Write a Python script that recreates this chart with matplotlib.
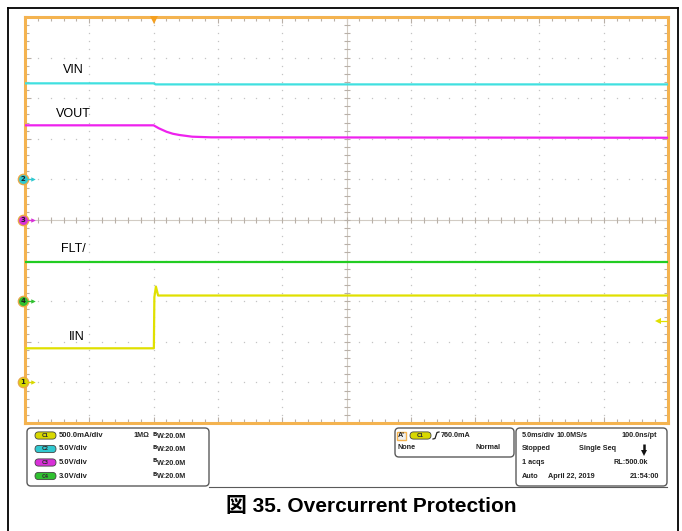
import numpy as np
import matplotlib
matplotlib.use("Agg")
import matplotlib.pyplot as plt
from matplotlib.patches import FancyBboxPatch, Rectangle
from matplotlib import transforms

# ---------------- data ----------------
# time in ms relative to trigger, 5 ms/div, trigger 2 div from left
time_vin = [-10, 0.0, 0.15, 40]
vin_V = [11.83, 11.83, 11.7, 11.7]

time_vout = [-10, 0.0, 0.4, 1.0, 1.5, 2.0, 3.0, 4.5, 40]
vout_V = [11.66, 11.66, 11.3, 10.87, 10.62, 10.47, 10.26, 10.18, 10.13]

time_flt = [-10, 40]
flt_V = [2.9, 2.9]

time_iin = [-10, 0.02, 0.06, 0.18, 0.35, 40]
iin_A = [0.42, 0.42, 1.05, 1.18, 1.07, 1.07]

# channel settings: (scale per div, marker offset in div)
ch_scale = {"C1": 0.5, "C2": 5.0, "C3": 5.0, "C4": 3.0}
ch_offset = {"C1": -4.0, "C2": 1.0, "C3": 0.0, "C4": -2.0}
ch_color = {"C1": "#e0e000", "C2": "#40e0e0", "C3": "#ee22ee", "C4": "#22cc22"}
ch_pill = {"C1": "#d8d800", "C2": "#30c8d0", "C3": "#d830d8", "C4": "#30c030"}
trig_level_A = 0.76

labels = ["VIN", "VOUT", "FLT/", "IIN"]
label_t = [-7.05, -7.61, -7.22, -6.56]
scale_text = ["500.0mA/div", "5.0V/div", "5.0V/div", "3.0V/div"]
title = "図 35. Overcurrent Protection"

W, H = 682, 531
fig = plt.figure(figsize=(W / 100, H / 100), dpi=100)
bg = fig.add_axes([0, 0, 1, 1])
bg.set_xlim(0, W)
bg.set_ylim(H, 0)
bg.axis("off")

# outer black frame
bg.plot([7.5, 7.5], [8, 531], color="black", lw=1.3)
bg.plot([7.5, 678], [8, 8], color="black", lw=1.3)
bg.plot([678, 678], [8, 531], color="black", lw=1.3)

# ---------------- scope axes ----------------
L, T, R, B = 25, 17, 668, 423
ax = fig.add_axes([L / W, 1 - B / H, (R - L) / W, (B - T) / H])
ax.set_xlim(-10, 40)
ax.set_ylim(-5, 5)
orange = "#f4b350"
for s in ax.spines.values():
    s.set_color(orange)
    s.set_linewidth(2.2)
ax.set_xticks(np.arange(-10, 41, 5))
ax.set_xticks(np.arange(-10, 40.1, 1), minor=True)
ax.set_yticks(np.arange(-5, 5.1, 1))
ax.set_yticks(np.arange(-5, 5.01, 0.2), minor=True)
tick_col = "#b8b0a8"
ax.tick_params(which="major", direction="in", length=4.5, width=0.8, color=tick_col,
               top=True, right=True, labelbottom=False, labelleft=False)
ax.tick_params(which="minor", direction="in", length=2.8, width=0.8, color=tick_col,
               top=True, right=True)

# dotted graticule
dot_col = "#c4c4c4"
ydots = np.arange(-5, 5.01, 0.2)
xdots = np.arange(-10, 40.01, 1.0)
for xv in np.arange(-5, 40, 5):
    if xv == 15:
        continue
    ax.plot(np.full_like(ydots, xv), ydots, ls="none", marker="s", ms=0.9, color=dot_col, mew=0)
for yv in np.arange(-4, 5, 1):
    if yv == 0:
        continue
    ax.plot(xdots, np.full_like(xdots, yv), ls="none", marker="s", ms=0.9, color=dot_col, mew=0)
# centre cross with ticks
ax.axhline(0, color="#d2ccc4", lw=0.8)
ax.axvline(15, color="#d2ccc4", lw=0.8)
ax.plot(xdots, np.zeros_like(xdots), ls="none", marker="|", ms=4, mew=0.8, color=tick_col)
ax.plot(np.full_like(ydots, 15), ydots, ls="none", marker="_", ms=4, mew=0.8, color=tick_col)

def to_div(vals, ch):
    return [ch_offset[ch] + v / ch_scale[ch] for v in vals]

ax.plot(time_vin, to_div(vin_V, "C2"), color=ch_color["C2"], lw=1.6, zorder=5)
ax.plot(time_vout, to_div(vout_V, "C3"), color=ch_color["C3"], lw=1.6, zorder=5)
ax.plot(time_flt, to_div(flt_V, "C4"), color=ch_color["C4"], lw=1.6, zorder=5)
ax.plot(time_iin, to_div(iin_A, "C1"), color=ch_color["C1"], lw=1.6, zorder=5)

# trace labels
lab_y = [to_div([vin_V[0]], "C2")[0] + 0.32, to_div([vout_V[0]], "C3")[0] + 0.28,
         to_div([flt_V[0]], "C4")[0] + 0.31, to_div([iin_A[0]], "C1")[0] + 0.27]
for txt, tx, ty in zip(labels, label_t, lab_y):
    ax.text(tx, ty, txt, fontsize=9, family="Liberation Sans", va="center", ha="left")

# channel markers on the left
bt = transforms.blended_transform_factory(ax.transAxes, ax.transData)
for ch, num in [("C1", "1"), ("C2", "2"), ("C3", "3"), ("C4", "4")]:
    y = ch_offset[ch]
    ax.plot([-0.0036], [y], marker="o", ms=7.4, mfc=ch_pill[ch], mec="#e8a848", mew=1.0,
            transform=bt, clip_on=False, zorder=10)
    ax.text(-0.0036, y, num, fontsize=5, ha="center", va="center", transform=bt,
            color="#222222", clip_on=False, zorder=11, fontweight="bold")
    ax.plot([0.004, 0.0125], [y, y], color=ch_pill[ch], lw=0.9, transform=bt, clip_on=False, zorder=10)
    ax.plot([0.0125], [y], marker=">", ms=3.2, color=ch_pill[ch], mew=0, transform=bt,
            clip_on=False, zorder=10)

# trigger position marker
bt2 = transforms.blended_transform_factory(ax.transData, ax.transAxes)
ax.plot([0], [0.992], marker="v", ms=5.5, color="#f5a020", mew=0, transform=bt2,
        clip_on=False, zorder=10)
# trigger level marker
tl = ch_offset["C1"] + trig_level_A / ch_scale["C1"]
ax.plot([0.984, 0.998], [tl, tl], color=ch_color["C1"], lw=0.9, transform=bt, clip_on=False, zorder=10)
ax.plot([0.984], [tl], marker="<", ms=4.5, color=ch_color["C1"], mew=0, transform=bt,
        clip_on=False, zorder=10)

# ---------------- bottom info panels ----------------
def panel(x0, y0, x1, y1):
    p = FancyBboxPatch((x0, y0), x1 - x0, y1 - y0,
                       boxstyle="round,pad=0,rounding_size=4",
                       fc="white", ec="#5a5a5a", lw=1.0)
    bg.add_patch(p)

panel(27, 428, 209, 486)
panel(395, 428, 514, 457)
panel(516, 428, 667, 486)
bg.plot([209, 667], [486.5, 486.5], color="#5a5a5a", lw=0.8)

fs = 5.2
tkw = dict(fontsize=fs, fontweight="bold", family="Liberation Sans", va="center", color="#222222")

def pill(x, y, ch):
    p = FancyBboxPatch((x, y - 3.6), 21, 7.2, boxstyle="round,pad=0,rounding_size=3.6",
                       fc=ch_pill[ch], ec="#444444", lw=0.6)
    bg.add_patch(p)
    bg.text(x + 10.5, y, ch, fontsize=3.6, ha="center", va="center", color="#333333",
            fontweight="bold")

rows = [435.5, 449, 462.5, 476]
for i, ch in enumerate(["C1", "C2", "C3", "C4"]):
    y = rows[i]
    pill(35, y, ch)
    bg.text(59, y, scale_text[i], ha="left", fontsize=5.5, fontweight="bold",
            family="Liberation Sans", va="center", color="#222222")
    bg.text(155, y - 1.5, "B", fontsize=4.2, fontweight="bold", ha="center", va="center",
            color="#222222")
    bg.text(156.5, y + 0.8, "W:20.0M", ha="left", **tkw)
bg.text(133, rows[0], "1MΩ", ha="left", **tkw)

# trigger panel
bg.add_patch(Rectangle((396.5, 431.5), 9, 8, fc="#f0f0f0", ec=orange, lw=1.0))
bg.text(401, 435.5, "A'", ha="center", **tkw)
pill(410, 435.5, "C1")
bg.plot([433, 435, 437, 439], [439, 438.5, 432.5, 432], color="#222222", lw=0.9)
bg.text(441, 435.5, "760.0mA", ha="left", **tkw)
bg.text(398, 447.5, "None", ha="left", **tkw)
bg.text(501, 447.5, "Normal", ha="right", **tkw)

# timebase panel
bg.text(521.5, rows[0], "5.0ms/div", ha="left", **tkw)
bg.text(556, rows[0], "10.0MS/s", ha="left", **tkw)
bg.text(657, rows[0], "100.0ns/pt", ha="right", **tkw)
bg.text(521.5, rows[1], "Stopped", ha="left", **tkw)
bg.text(579, rows[1], "Single Seq", ha="left", **tkw)
bg.plot([644, 644], [444, 451], color="#111111", lw=1.8, solid_capstyle="butt")
bg.plot([644], [453], marker="v", ms=4, color="#111111", mew=0)
bg.text(521.5, rows[2], "1 acqs", ha="left", **tkw)
bg.text(648, rows[2], "RL:500.0k", ha="right", **tkw)
bg.text(521.5, rows[3], "Auto", ha="left", **tkw)
bg.text(548, rows[3], "April 22, 2019", ha="left", **tkw)
bg.text(659, rows[3], "21:54:00", ha="right", **tkw)

# caption
bg.text(371, 506, title, fontsize=15, fontweight="bold",
        family=["Liberation Sans", "Noto Sans CJK JP"], ha="center", va="center")

fig.savefig("out.png", dpi=100)
